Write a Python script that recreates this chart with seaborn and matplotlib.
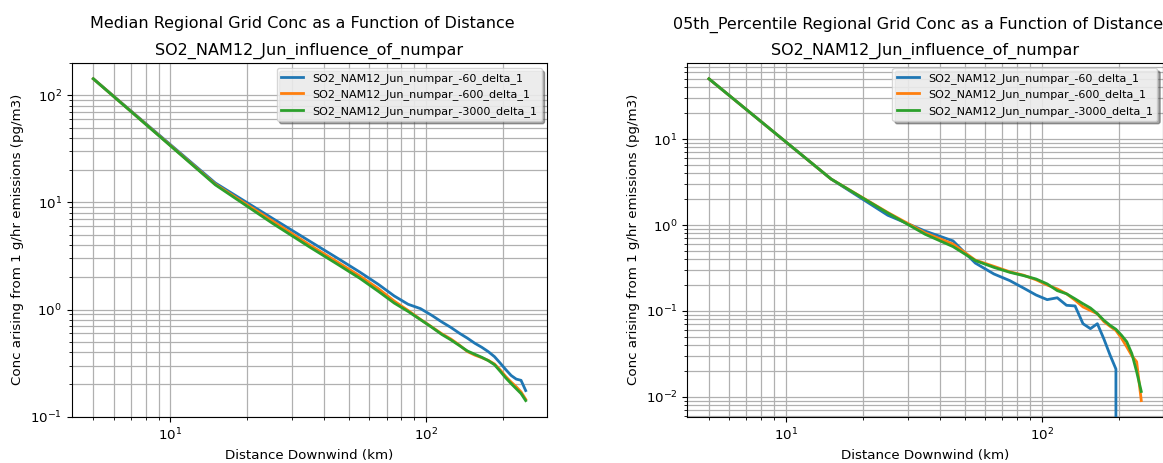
import numpy as np
import pandas as pd
import matplotlib
matplotlib.use("Agg")
import matplotlib.pyplot as plt
import seaborn as sns

# Downwind distance bins (km, bin centres)
distance_km = [5, 15, 25, 35, 45, 55, 65, 75, 85, 95, 105, 115, 125,
               135, 145, 155, 165, 175, 185, 195, 205, 215, 225, 235, 245]

run_names = ["SO2_NAM12_Jun_numpar_-60_delta_1",
             "SO2_NAM12_Jun_numpar_-600_delta_1",
             "SO2_NAM12_Jun_numpar_-3000_delta_1"]

# Median regional grid concentration (pg/m3 per 1 g/hr emitted)
median_np60 = [143, 15.2, 7.14, 4.36, 3.02, 2.24, 1.72, 1.34, 1.12, 1.02,
               0.885, 0.767, 0.68, 0.60, 0.54, 0.484, 0.444, 0.404, 0.363,
               0.315, 0.274, 0.242, 0.224, 0.218, 0.175]
median_np600 = [143, 14.8, 6.75, 4.02, 2.78, 2.06, 1.57, 1.20, 0.98, 0.81,
                0.69, 0.595, 0.53, 0.465, 0.405, 0.375, 0.355, 0.335, 0.31,
                0.272, 0.236, 0.21, 0.19, 0.17, 0.145]
median_np3000 = [143, 14.6, 6.42, 3.84, 2.65, 1.96, 1.48, 1.15, 0.96, 0.804,
                 0.685, 0.586, 0.52, 0.46, 0.41, 0.382, 0.358, 0.333, 0.305,
                 0.264, 0.229, 0.203, 0.182, 0.164, 0.141]

# 5th percentile regional grid concentration
p05_np60 = [50.5, 3.44, 1.30, 0.85, 0.653, 0.36, 0.269, 0.225, 0.184, 0.153,
            0.135, 0.142, 0.116, 0.114, 0.0708, 0.062, 0.0708, 0.047, 0.0305,
            0.021, 0.0, 0.0, 0.0, 0.0, 0.0]
p05_np600 = [50.5, 3.44, 1.40, 0.81, 0.60, 0.39, 0.33, 0.285, 0.26, 0.23,
             0.20, 0.18, 0.158, 0.133, 0.111, 0.101, 0.0925, 0.075, 0.066,
             0.059, 0.048, 0.038, 0.030, 0.0255, 0.009]
p05_np3000 = [50.5, 3.44, 1.38, 0.78, 0.56, 0.385, 0.321, 0.281, 0.257, 0.235,
              0.206, 0.172, 0.158, 0.138, 0.121, 0.108, 0.0925, 0.0776, 0.0678,
              0.061, 0.052, 0.0436, 0.0318, 0.0195, 0.0115]


def long_table(series):
    frames = []
    for name, vals in zip(run_names, series):
        frames.append(pd.DataFrame({"distance": distance_km,
                                    "conc": vals,
                                    "run": name}))
    return pd.concat(frames, ignore_index=True)


panels = [
    ("Median Regional Grid Conc as a Function of Distance",
     long_table([median_np60, median_np600, median_np3000])),
    ("05th_Percentile Regional Grid Conc as a Function of Distance",
     long_table([p05_np60, p05_np600, p05_np3000])),
]
subtitle = "SO2_NAM12_Jun_influence_of_numpar"

fig = plt.figure(figsize=(11.63, 4.63), dpi=100)
W, H = 1163, 463
ax_w = 475.6 / W
ax_h = (416.7 - 62.7) / H
ax_bottom = 1 - 416.7 / H
lefts = [71.7 / W, 687.3 / W]

palette = sns.color_palette("tab10", 3)

for (title, df), left in zip(panels, lefts):
    ax = fig.add_axes([left, ax_bottom, ax_w, ax_h])
    sns.lineplot(data=df, x="distance", y="conc", hue="run",
                 hue_order=run_names, palette=palette, estimator=None,
                 sort=False, linewidth=2, ax=ax)
    ax.set_xscale("log")
    ax.set_yscale("log")
    ax.relim()
    ax.autoscale_view()
    ax.grid(True, which="both", color="#b0b0b0", linewidth=0.9)
    ax.set_axisbelow(True)
    ax.tick_params(labelsize=9.6)
    ax.set_xlabel("Distance Downwind (km)", fontsize=9.6)
    ax.set_ylabel("Conc arising from 1 g/hr emissions (pg/m3)", fontsize=9.6)
    ax.set_title(subtitle, fontsize=11.5, pad=6)
    ax.annotate(title, xy=(0.5, 1.0), xycoords="axes fraction",
                xytext=(-5, 24.7), textcoords="offset points",
                ha="center", va="baseline", fontsize=11.5)
    handles, labels = ax.get_legend_handles_labels()
    ax.legend(handles, labels, loc="upper right", shadow=True,
              fontsize=8, framealpha=0.8)

fig.savefig("out.png", dpi=100)
